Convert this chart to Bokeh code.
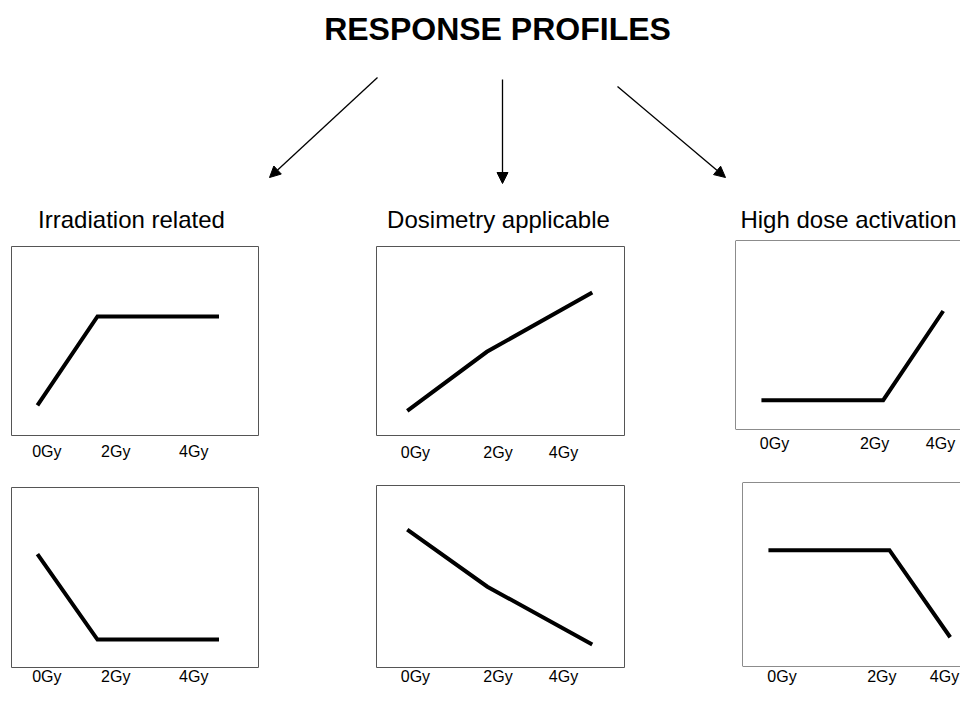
from bokeh.plotting import figure
from bokeh.models import (Range1d, Arrow, NormalHead, Span, FixedTicker,
                          CustomJSTickFormatter, Spacer, Label)
from bokeh.layouts import row, column
from bokeh.embed import file_html
from bokeh.resources import INLINE

# ---------------- data ----------------
main_title = "RESPONSE PROFILES"
profiles = ["Irradiation related", "Dosimetry applicable", "High dose activation"]
dose_labels = ["0Gy", "2Gy", "4Gy"]

# x: position along the panel (percent of panel width); y: response (percent of panel height)
irr_up_x = [10.5, 34.8, 84.0]
irr_up_y = [16.0, 63.0, 63.0]
irr_down_x = [10.5, 34.8, 84.0]
irr_down_y = [63.0, 15.5, 15.5]

dos_up_x = [12.4, 44.5, 87.0]
dos_up_y = [13.0, 44.3, 75.6]
dos_down_x = [12.4, 44.7, 87.0]
dos_down_y = [75.7, 44.4, 12.6]

high_up_x = [10.5, 59.8, 84.1]
high_up_y = [15.5, 15.5, 62.7]
high_down_x = [10.5, 59.5, 84.1]
high_down_y = [63.2, 63.2, 15.9]

# where the dose labels sit along each panel (percent of panel width)
irr_label_x = [14.3, 42.2, 73.8]
dos_label_x = [15.7, 49.0, 75.4]
high_up_label_x = [15.8, 56.3, 83.0]
high_down_label_x = [16.0, 56.4, 81.8]

FONT = "Liberation Sans"
BOX_W = 247.0  # full panel box width in px (right panels are cut by the page edge)


def panel(xs, ys, label_x, fw, fh, bl, br, bt, bb, standoff, open_right=False,
          outline="#555555"):
    w = bl + fw + br
    h = bt + fh + bb
    x_end = 100.0 * fw / BOX_W if open_right else 100.0
    p = figure(width=w, height=h, output_backend="svg", toolbar_location=None,
               tools="", x_range=Range1d(0, x_end), y_range=Range1d(0, 100),
               min_border_left=bl, min_border_right=br, min_border_top=bt,
               min_border_bottom=bb, y_axis_location=None)
    p.grid.visible = False
    p.background_fill_color = "white"
    p.border_fill_color = "white"
    ax = p.xaxis[0]
    ax.ticker = FixedTicker(ticks=label_x, minor_ticks=[])
    ax.formatter = CustomJSTickFormatter(args=dict(labels=dose_labels),
                                         code="return labels[index];")
    ax.axis_line_color = None
    ax.major_tick_line_color = None
    ax.minor_tick_line_color = None
    ax.major_tick_out = 0
    ax.major_tick_in = 0
    ax.major_label_standoff = standoff
    ax.major_label_text_font = FONT
    ax.major_label_text_font_size = "16px"
    ax.major_label_text_color = "black"
    if open_right:
        p.outline_line_color = None
        for loc, dim in ((0, "width"), (100, "width"), (0, "height")):
            p.add_layout(Span(location=loc, dimension=dim, line_color="#1a1a1a",
                              line_width=1))
    else:
        p.outline_line_color = outline
        p.outline_line_width = 1
    p.line(xs, ys, line_width=4, line_color="black", line_cap="butt",
           line_join="miter")
    return p


# ---------------- top: title, arrows, column headers ----------------
TOP_H = 237
top = figure(width=960, height=TOP_H, output_backend="svg", toolbar_location=None,
             tools="", x_range=Range1d(0, 960), y_range=Range1d(TOP_H, 0),
             min_border=0, x_axis_location=None, y_axis_location=None)
top.grid.visible = False
top.outline_line_color = None
top.add_layout(Label(x=497, y=28, text=main_title, text_align="center",
                     text_baseline="alphabetic", text_font=FONT,
                     text_font_style="bold", text_font_size="32px",
                     text_color="black"))
for (xs, ys, xe, ye) in ((377, 77, 269, 177), (502, 79, 502, 183),
                         (617, 86, 725, 177)):
    top.add_layout(Arrow(end=NormalHead(size=11, fill_color="black",
                                        line_color="black", line_width=1),
                         x_start=xs, y_start=ys, x_end=xe, y_end=ye,
                         line_width=1.3, line_color="black"))
for name, cx in zip(profiles, (131, 498, 848)):
    top.add_layout(Label(x=cx, y=219, text=name, text_align="center",
                         text_baseline="alphabetic", text_font=FONT,
                         text_font_size="24px", text_color="black"))

# ---------------- panels ----------------
tl = panel(irr_up_x, irr_up_y, irr_label_x, 247, 189, 3, 3, 3, 30, 7)
bl_ = panel(irr_down_x, irr_down_y, irr_label_x, 247, 182, 3, 3, 3, 18, 0)
tm = panel(dos_up_x, dos_up_y, dos_label_x, 248, 189, 3, 3, 3, 30, 8)
bm = panel(dos_down_x, dos_down_y, dos_label_x, 248, 184, 3, 3, 3, 18, 0)
tr = panel(high_up_x, high_up_y, high_up_label_x, 225, 189, 3, 0, 2, 30, 5,
           open_right=True)
br = panel(high_down_x, high_down_y, high_down_label_x, 218, 185, 3, 0, 2, 20, 1,
           open_right=True)

col_a = column(Spacer(width=253, height=6), tl, Spacer(width=253, height=19), bl_)
col_b = column(Spacer(width=254, height=6), tm, Spacer(width=254, height=17), bm)
col_c = column(Spacer(width=228, height=1), tr, Spacer(width=228, height=21),
               row(Spacer(width=7, height=207), br))
panels = row(Spacer(width=8, height=10), col_a, Spacer(width=112, height=10), col_b,
             Spacer(width=105, height=10), col_c)
layout = column(top, panels)

open("out.html", "w").write(file_html(layout, INLINE))
